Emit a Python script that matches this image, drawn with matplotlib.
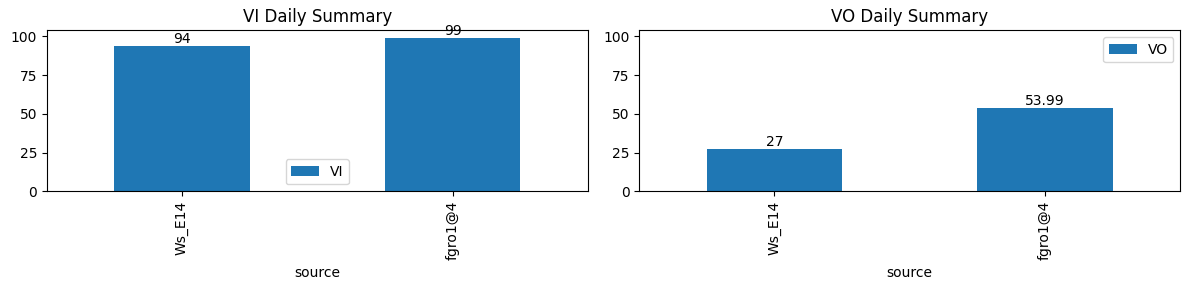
import matplotlib
matplotlib.use("Agg")
import matplotlib.pyplot as plt
import numpy as np

categories = ["Ws_E14", "fgro1@4"]
vi_values = [94, 99]
vo_values = [27, 53.99]

fig, axes = plt.subplots(1, 2, figsize=(11.89, 2.9), dpi=100, sharey=True)
x = np.arange(len(categories))
for ax, vals, name in zip(axes, [vi_values, vo_values], ["VI", "VO"]):
    bars = ax.bar(x, vals, width=0.5, color="#1f77b4", label=name)
    ax.bar_label(bars, labels=[f"{v:g}" for v in vals])
    ax.set_xticks(x)
    ax.set_xticklabels(categories, rotation=90)
    ax.set_xlim(-0.5, len(categories) - 0.5)
    ax.set_xlabel("source")
    ax.set_title(f"{name} Daily Summary")
    ax.yaxis.set_tick_params(labelleft=True)
axes[0].set_ylim(0, 99 * 1.05)
axes[0].legend(loc="lower center")
axes[1].legend(loc="upper right")
fig.subplots_adjust(left=0.0393, right=0.9927, top=0.8955, bottom=0.3403, wspace=0.0948)
fig.savefig("out.png", dpi=100)
